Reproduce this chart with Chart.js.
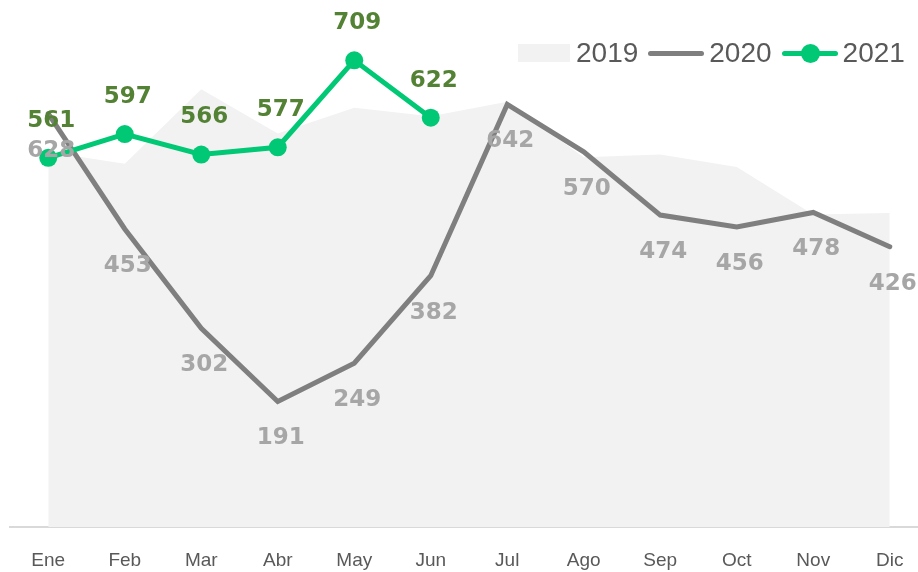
<!DOCTYPE html>
<html lang="es">
<head>
    <meta charset="UTF-8">
    <title>Ventas mensuales 2019-2021</title>
    <script src="https://cdn.jsdelivr.net/npm/chart.js"></script>
    <style>
        body, html {
            margin: 0;
            padding: 0;
            overflow: hidden;
            background: #fff;
            font-family: "Liberation Sans", Arial, sans-serif;
        }
        .wrap {
            position: relative;
            width: 918px;
            height: 572px;
            overflow: hidden;
        }
        .chart-box {
            position: absolute;
            left: 0;
            top: 0;
            width: 937px;
            height: 594px;
        }
        .legend {
            position: absolute;
            left: 518px;
            top: 35px;
            height: 36px;
            display: flex;
            align-items: center;
            font-size: 28px;
            line-height: 1;
            color: #595959;
        }
        .legend .box {
            width: 52px;
            height: 18px;
            background: #F2F2F2;
            margin-right: 6px;
        }
        .legend .ln {
            position: relative;
            width: 56px;
            height: 5px;
            border-radius: 3px;
            margin-right: 5px;
        }
        .legend .dot {
            position: absolute;
            left: 19px;
            top: -7px;
            width: 19px;
            height: 19px;
            border-radius: 50%;
            background: #00C875;
        }
        .legend .txt { margin-right: 10px; }
    </style>
</head>
<body>
    <div class="wrap">
        <div class="chart-box"><canvas id="chart"></canvas></div>
        <div class="legend">
            <span class="box"></span><span class="txt">2019</span>
            <span class="ln" style="background:#7F7F7F"></span><span class="txt">2020</span>
            <span class="ln" style="background:#00C875"><span class="dot"></span></span><span class="txt">2021</span>
        </div>
    </div>

    <script>
        const months = ['Ene', 'Feb', 'Mar', 'Abr', 'May', 'Jun', 'Jul', 'Ago', 'Sep', 'Oct', 'Nov', 'Dic'];
        const values2019 = [570, 552, 665, 598, 637, 624, 646, 562, 566, 547, 475, 477];
        const values2020 = [628, 453, 302, 191, 249, 382, 642, 570, 474, 456, 478, 426];
        const values2021 = [561, 597, 566, 577, 709, 622];

        // value labels: 2020 below the line, 2021 above
        const valueLabels = {
            id: 'valueLabels',
            afterDatasetsDraw(chart) {
                const ctx = chart.ctx;
                ctx.save();
                ctx.font = 'bold 23px "DejaVu Sans", sans-serif';
                ctx.textAlign = 'center';
                ctx.textBaseline = 'middle';
                [[1, 37, '#A6A6A6'], [2, -37, '#548235']].forEach(([idx, dy, color]) => {
                    const meta = chart.getDatasetMeta(idx);
                    const data = chart.data.datasets[idx].data;
                    ctx.fillStyle = color;
                    meta.data.forEach((pt, i) => {
                        ctx.fillText(data[i], pt.x + 3, pt.y + dy);
                    });
                });
                ctx.restore();
            }
        };

        new Chart(document.getElementById('chart').getContext('2d'), {
            type: 'line',
            data: {
                labels: months,
                datasets: [{
                    label: '2019',
                    data: values2019,
                    fill: 'origin',
                    backgroundColor: '#F2F2F2',
                    borderWidth: 0,
                    pointRadius: 0,
                    order: 3
                }, {
                    label: '2020',
                    data: values2020,
                    fill: false,
                    borderColor: '#7F7F7F',
                    borderWidth: 5,
                    borderCapStyle: 'round',
                    pointRadius: 0,
                    order: 2
                }, {
                    label: '2021',
                    data: values2021,
                    fill: false,
                    borderColor: '#00C875',
                    backgroundColor: '#00C875',
                    borderWidth: 5,
                    pointRadius: 9,
                    pointBorderWidth: 0,
                    order: 1
                }]
            },
            options: {
                responsive: true,
                maintainAspectRatio: false,
                animation: false,
                layout: { padding: { left: 10, right: 1, top: 0, bottom: 0 } },
                plugins: {
                    legend: { display: false },
                    tooltip: { enabled: false }
                },
                scales: {
                    x: {
                        offset: true,
                        grid: { display: false, drawTicks: false },
                        border: { color: '#D9D9D9', width: 2 },
                        ticks: {
                            color: '#595959',
                            padding: 22,
                            font: { family: '"Liberation Sans", Arial, sans-serif', size: 19 }
                        }
                    },
                    y: {
                        display: false,
                        min: 0,
                        max: 787
                    }
                }
            },
            plugins: [valueLabels]
        });
    </script>
</body>
</html>
